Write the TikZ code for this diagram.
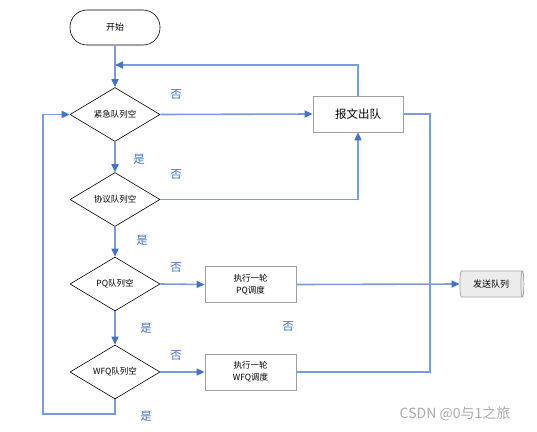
\documentclass[tikz,border=0pt]{standalone}
\usepackage{fontspec}
\setmainfont{Noto Sans CJK SC}
\usetikzlibrary{shapes.geometric,arrows.meta}
\definecolor{lineblue}{RGB}{122,156,216}
\definecolor{tipblue}{RGB}{68,114,196}
\definecolor{labelblue}{RGB}{68,114,196}
\definecolor{boxgray}{RGB}{160,160,160}
\definecolor{cylfill}{RGB}{236,236,236}
\tikzset{
  conn/.style={draw=lineblue, line width=1.6pt},
  arr/.style={conn, -{Triangle[length=8pt,width=7pt,color=tipblue]}},
  decision/.style={diamond, draw=black, line width=0.6pt, minimum width=90pt, minimum height=54pt, inner sep=0pt, font=\fontsize{8.5}{10}\selectfont, aspect=1.67},
  procbox/.style={rectangle, draw=boxgray, line width=0.7pt, minimum width=91pt, minimum height=36pt, inner sep=0pt, align=center, font=\fontsize{8.5}{12}\selectfont},
  yn/.style={text=labelblue, font=\fontsize{11.5}{12}\selectfont, inner sep=0pt},
}
\begin{document}
\begin{tikzpicture}[x=1pt,y=-1pt]
\useasboundingbox (0,0) rectangle (537,431);
\node[rectangle, rounded corners=17pt, draw=black, line width=0.6pt, minimum width=90pt, minimum height=35pt, font=\fontsize{9}{10}\selectfont] (start) at (115,27.5) {开始};
\node[decision] (d1) at (115,114.5) {紧急队列空};
\node[decision] (d2) at (115,199.5) {协议队列空};
\node[decision] (d3) at (115,284) {PQ队列空};
\node[decision] (d4) at (115,372) {WFQ队列空};
\node[procbox, minimum width=90pt, font=\fontsize{11.5}{12}\selectfont] (out) at (358,114) {报文出队};
\node[procbox] (pq) at (250.5,284.5) {执行一轮\\PQ调度};
\node[procbox] (wfq) at (250.5,372) {执行一轮\\WFQ调度};
\node[cylinder, draw=boxgray, fill=cylfill, line width=0.7pt, minimum width=26pt, minimum height=64pt, shape aspect=0.35, inner sep=0pt, font=\fontsize{9}{10}\selectfont] (send) at (491,284) {发送队列\hspace{6pt}};

\coordinate (j) at (115,65);
\coordinate (r) at (430,114);
\coordinate (lb) at (43,414);

\draw[conn] (start.south) -- (j);
\draw[arr] (j) -- (d1.north);
\draw[arr] (out.north) |- (j);
\draw[arr] (d1.east) -- (out.west);
\draw[arr] (d1.south) -- (d2.north);
\draw[arr] (d2.east) -| (out.south);
\draw[arr] (d2.south) -- (d3.north);
\draw[arr] (d3.east) -- (pq.west);
\draw[arr] (d3.south) -- (d4.north);
\draw[arr] (d4.east) -- (wfq.west);
\draw[arr] (pq.east) -- (send.west);
\draw[conn] (wfq.east) -| (r) -- (out.east);
\draw[arr] (d4.south) |- (lb) |- (d1.west);

\node[yn] (n1) at (176,94) {否};
\node[yn] (y1) at (139,159) {是};
\node[yn] (n2) at (176,174) {否};
\node[yn] (y2) at (142,240) {是};
\node[yn] (n3) at (176,267) {否};
\node[yn] (y3) at (146,328) {是};
\node[yn] (n4) at (176,355) {否};
\node[yn] (y4) at (146,416) {是};
\node[yn] (n5) at (288,326) {否};

\node[text=boxgray!90, font=\fontsize{14}{14}\selectfont, inner sep=0pt] (wm) at (455,414) {CSDN @0与1之旅};
\end{tikzpicture}
\end{document}
